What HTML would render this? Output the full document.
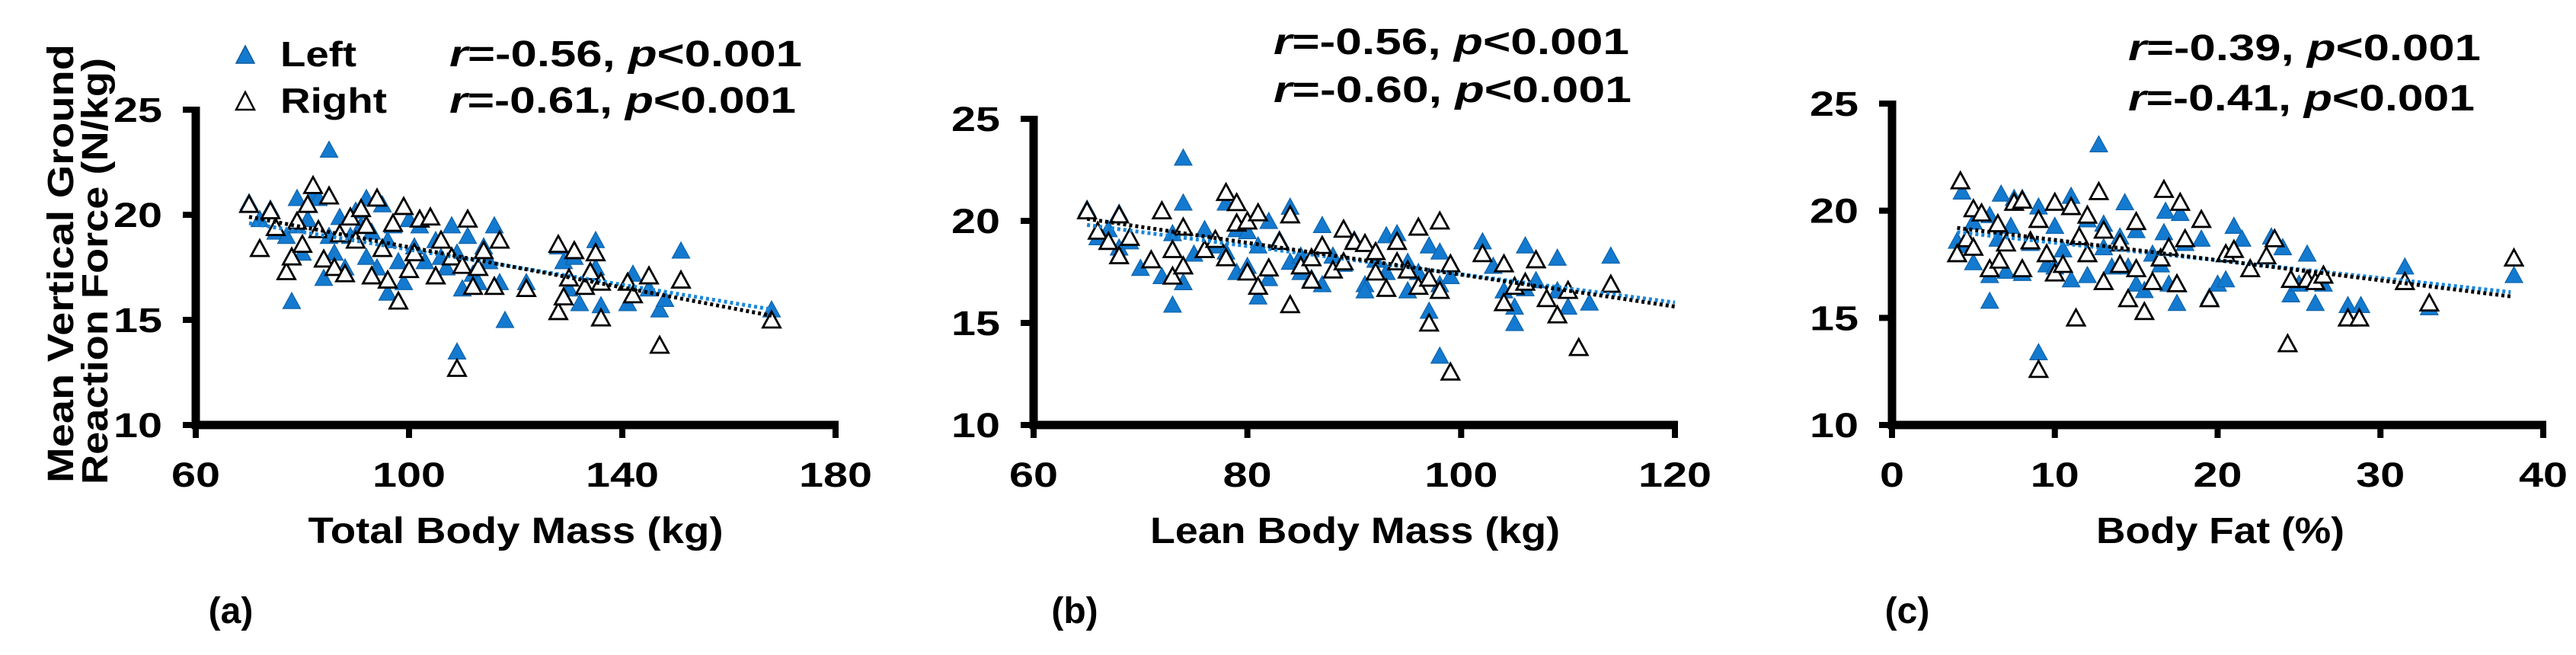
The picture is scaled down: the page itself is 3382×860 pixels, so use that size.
<!DOCTYPE html>
<html><head><meta charset="utf-8"><style>
html,body{margin:0;padding:0;background:#fff}
svg{display:block}
text{font-family:"Liberation Sans",sans-serif;font-weight:bold;fill:#000}
</style></head><body>
<svg id="chart" width="3382" height="860" viewBox="0 0 3382 860" xmlns="http://www.w3.org/2000/svg">
<g>
<text transform="translate(96,346) rotate(-90)" text-anchor="middle" font-size="48" textLength="576" lengthAdjust="spacingAndGlyphs">Mean Vertical Ground</text>
<text transform="translate(141,356) rotate(-90)" text-anchor="middle" font-size="48" textLength="560" lengthAdjust="spacingAndGlyphs">Reaction Force (N/kg)</text>
</g>
<g>
<g><polygon points="310,83 334,83 322,60" fill="#137ad0" stroke="#0d5a9c" stroke-width="1.5"/><text x="368" y="87" font-size="46" textLength="100" lengthAdjust="spacingAndGlyphs">Left</text></g>
<g><polygon points="310,144 334,144 322,121" fill="#fff" stroke="#000" stroke-width="2.5"/><text x="368" y="148" font-size="46" textLength="140" lengthAdjust="spacingAndGlyphs">Right</text></g>
</g>
<g id="panels"></g>
</svg>
<script>
const ns="http://www.w3.org/2000/svg";
// Panel a data
const aLeft=[[70,20.6],[72,19.8],[74,20.3],[75,19.2],[77,19.0],[78,15.9],[79,20.8],[79,19.5],[80,18.2],[81,19.8],[82,21.0],[83,20.8],[84,17.0],[85,23.1],[85,19.0],[86,18.2],[87,19.9],[88,17.5],[89,19.0],[90,20.2],[91,19.5],[92,20.8],[92,18.0],[93,19.2],[94,17.5],[95,20.5],[96,18.8],[96,16.3],[97,19.5],[98,17.8],[99,16.8],[100,19.8],[101,18.5],[102,19.5],[103,17.8],[105,18.8],[106,18.0],[107,17.5],[108,19.5],[109,18.2],[109,13.5],[110,16.5],[111,19.0],[112,17.2],[113,16.8],[114,18.5],[115,17.8],[116,19.5],[117,16.8],[118,15.0],[122,16.8],[128,18.5],[129,17.8],[130,16.5],[131,18.0],[132,15.8],[135,18.8],[135,17.5],[136,15.7],[141,15.8],[142,17.2],[145,16.5],[147,15.5],[148,16.0],[151,18.3],[168,15.5]];
const aRight=[[70,20.5],[72,18.4],[74,20.2],[75,19.4],[77,17.3],[78,18.0],[79,19.7],[80,18.6],[81,20.5],[82,21.4],[83,19.3],[84,17.9],[85,20.9],[86,17.5],[87,19.1],[88,17.2],[89,19.9],[90,18.8],[91,20.3],[92,19.5],[93,17.1],[94,20.8],[95,18.4],[96,16.9],[97,19.6],[98,15.9],[99,20.4],[100,17.4],[101,18.2],[102,19.8],[104,19.9],[105,17.1],[106,18.8],[108,18.0],[109,12.7],[110,17.6],[111,19.8],[112,16.6],[113,17.5],[114,18.3],[116,16.6],[117,18.8],[122,16.5],[128,18.6],[128,15.4],[129,16.1],[130,17.0],[131,18.3],[133,16.6],[134,17.3],[135,18.2],[136,15.1],[136,16.8],[141,16.8],[142,16.2],[145,17.1],[147,13.8],[151,16.9],[168,15.0]];
const aTrendLeft=[[70,19.6],[168,15.5]];
const aTrendRight=[[70,19.9],[168,15.2]];
const aXTicks=[60,100,140,180];
// Panel b data
const bLeft=[[65,20.6],[66,19.2],[67,19.6],[68,20.4],[68,18.7],[69,19.0],[70,17.7],[72,17.3],[73,15.9],[73,19.4],[74,23.1],[74,20.9],[74,17.0],[75,18.4],[76,19.6],[77,18.8],[78,20.9],[78,18.5],[79,17.5],[79,19.6],[80,19.5],[80,17.8],[81,16.3],[81,18.8],[82,20.0],[82,17.2],[83,19.1],[84,18.0],[84,20.7],[85,17.5],[85,18.3],[86,17.2],[87,19.8],[87,16.9],[88,18.3],[89,19.6],[89,17.9],[90,19.1],[91,16.9],[91,16.6],[92,18.1],[93,17.5],[93,19.3],[94,19.4],[95,18.0],[95,16.6],[96,17.5],[97,18.8],[97,15.6],[98,16.9],[98,18.5],[98,13.4],[99,17.3],[102,19.0],[103,17.8],[104,16.6],[105,15.8],[105,15.0],[106,18.8],[106,16.7],[107,17.1],[109,18.2],[109,16.6],[110,15.8],[112,16.0],[114,18.3]];
const bRight=[[65,20.5],[66,19.5],[67,19.0],[68,18.3],[68,20.3],[69,19.2],[71,18.1],[72,20.5],[73,17.3],[73,18.6],[74,19.7],[74,17.8],[76,18.6],[77,19.1],[78,21.4],[78,18.2],[79,20.9],[79,19.9],[80,20.0],[80,17.5],[81,16.8],[81,20.4],[82,17.7],[83,19.0],[84,20.3],[84,15.9],[85,17.8],[86,18.2],[86,17.1],[87,18.8],[88,17.6],[89,19.6],[89,18.0],[90,19.0],[91,18.9],[92,17.5],[92,18.5],[93,16.7],[94,19.0],[94,18.0],[95,17.6],[96,19.7],[96,16.8],[97,17.2],[97,15.0],[98,20.0],[98,16.6],[99,17.9],[99,12.6],[102,18.4],[104,16.0],[104,17.9],[105,16.8],[106,17.0],[107,18.1],[108,16.2],[109,15.4],[110,16.6],[111,13.8],[114,16.9]];
const bTrendLeft=[[65,19.8],[120,16.0]];
const bTrendRight=[[65,20.1],[120,15.8]];
const bXTicks=[60,80,100,120];
// Panel c data
const cLeft=[[4,18.6],[4.3,20.9],[4.6,18.4],[5,19.5],[5,17.6],[6,15.8],[6,17.0],[6,19.8],[6.5,18.7],[6.7,20.8],[7,17.2],[7.3,19.3],[7.5,20.6],[8,20.6],[8,17.1],[8.5,18.5],[9,13.4],[9,20.2],[9.5,17.5],[10,19.3],[10,17.4],[10.5,18.2],[11,20.7],[11,16.8],[11.3,15.0],[12,19.6],[12,17.0],[12.7,23.1],[13,18.3],[13,19.4],[13.5,17.4],[14,18.8],[14.3,20.4],[14.5,17.4],[15,19.1],[15,16.6],[15.5,16.3],[16,18.0],[16.5,17.5],[16.7,19.0],[16.8,20.0],[17,16.6],[17.5,15.7],[17.7,19.9],[18,18.5],[19,18.7],[19.5,16.0],[20,16.6],[20.5,16.8],[21,19.3],[21.5,18.7],[22,17.3],[23.3,18.8],[24,18.3],[24.5,16.1],[25,16.6],[25.5,18.0],[26,15.7],[26.5,16.6],[28,15.6],[28.8,15.6],[31.5,17.4],[33,15.5],[38.2,17.0]];
const cRight=[[4,18.0],[4.2,21.4],[4.6,18.7],[5,20.1],[5,18.3],[5.5,19.9],[6,17.3],[6.5,19.4],[6.6,17.7],[7,18.5],[7.5,20.4],[8,20.5],[8,17.3],[8.5,18.6],[9,12.6],[9,19.6],[9.5,18.0],[10,20.4],[10,17.1],[10.5,17.5],[11,20.2],[11.3,15.0],[11.5,18.8],[12,19.8],[12,18.0],[12.7,20.9],[13,16.7],[13,19.1],[14,18.5],[14,17.5],[14.5,15.9],[15,19.5],[15,17.3],[15.5,15.3],[16,16.7],[16.5,17.8],[16.7,21.0],[17,18.3],[17.5,16.6],[17.7,20.4],[18,18.7],[19,19.6],[19.5,15.9],[20.5,18.0],[21,18.2],[22,17.3],[23,17.9],[23.5,18.7],[24.3,13.8],[24.5,16.8],[25.5,16.8],[26,16.7],[26.5,17.0],[28,15.0],[28.7,15.0],[31.5,16.7],[33,15.7],[38.2,17.8]];
const cTrendLeft=[[4,19.0],[38,16.2]];
const cTrendRight=[[4,19.2],[38,16.0]];
const cXTicks=[0,10,20,30,40];
const yTicks=[10,15,20,25];
const statsA=["-0.56","-0.61"], statsB=["-0.56","-0.60"], statsC=["-0.39","-0.41"];

const panels=[
 {id:"a",left:aLeft,right:aRight,tl:aTrendLeft,tr:aTrendRight,xt:aXTicks,x0:257,x1:1097,y10:558,y25:144,title:"Total Body Mass (kg)",tx:677,tw:545,lab:"(a)",lx:303,stats:statsA,sx:590,sy:[87,148],sw:[463,455]},
 {id:"b",left:bLeft,right:bRight,tl:bTrendLeft,tr:bTrendRight,xt:bXTicks,x0:1357,x1:2199,y10:558,y25:156,title:"Lean Body Mass (kg)",tx:1779,tw:538,lab:"(b)",lx:1411,stats:statsB,sx:1672,sy:[71,134],sw:[467,470]},
 {id:"c",left:cLeft,right:cRight,tl:cTrendLeft,tr:cTrendRight,xt:cXTicks,x0:2484,x1:3339,y10:558,y25:136,title:"Body Fat (%)",tx:2915,tw:326,lab:"(c)",lx:2504,stats:statsC,sx:2794,sy:[79,145],sw:[463,455]}
];
const root=document.getElementById("panels");
function mk(tag,attrs,parent){const e=document.createElementNS(ns,tag);for(const k in attrs)e.setAttribute(k,attrs[k]);parent.appendChild(e);return e;}
function tri(x,y,fill,stroke,sw,parent){return mk("polygon",{points:`${x-11.5},${y+10} ${x+11.5},${y+10} ${x},${y-11}`,fill:fill,stroke:stroke,"stroke-width":sw},parent);}
panels.forEach(p=>{
 const xmin=p.xt[0], xmax=p.xt[p.xt.length-1];
 const X=v=>p.x0+(v-xmin)/(xmax-xmin)*(p.x1-p.x0);
 const Y=v=>p.y10-(v-10)/15*(p.y10-p.y25);
 const g=mk("g",{},root);
 
 
 const ax=mk("g",{},g);
 
 
 mk("line",{x1:p.x0,y1:Y(25)-4,x2:p.x0,y2:p.y10+5,stroke:"#000","stroke-width":11},ax);
 mk("line",{x1:p.x0-5,y1:p.y10,x2:p.x1+4,y2:p.y10,stroke:"#000","stroke-width":11},ax);
 yTicks.forEach(t=>{
  mk("line",{x1:p.x0-17,y1:Y(t),x2:p.x0,y2:Y(t),stroke:"#000","stroke-width":8},ax);
  const tl=mk("text",{x:p.x0-44,y:Y(t)+16,"text-anchor":"end","font-size":45,textLength:64,lengthAdjust:"spacingAndGlyphs"},ax);
  tl.textContent=t;
  
  
 });
 p.xt.forEach(t=>{
  mk("line",{x1:X(t),y1:p.y10,x2:X(t),y2:p.y10+17,stroke:"#000","stroke-width":8},ax);
  const s=String(t);
  const tl=mk("text",{x:X(t),y:639,"text-anchor":"middle","font-size":45,textLength:s.length*32,lengthAdjust:"spacingAndGlyphs"},ax);
  tl.textContent=s;
  
  
 });
 const tt=mk("text",{x:p.tx,y:713,"text-anchor":"middle","font-size":48,textLength:p.tw,lengthAdjust:"spacingAndGlyphs"},g);
 tt.textContent=p.title;
 
 
 const lb=mk("text",{x:p.lx,y:818,"text-anchor":"middle","font-size":48},g);
 lb.textContent=p.lab;
 
 
 p.stats.forEach((r,i)=>{
  const st=mk("text",{x:p.sx,y:p.sy[i],"font-size":48,textLength:p.sw[i],lengthAdjust:"spacingAndGlyphs"},g);
  
  
  const a=mk("tspan",{"font-style":"italic"},st);a.textContent="r";
  const b=mk("tspan",{},st);b.textContent="="+r+", ";
  const c=mk("tspan",{"font-style":"italic"},st);c.textContent="p";
  const d=mk("tspan",{},st);d.textContent="<0.001";
 });
 const gl=mk("g",{},g);
 
 
 p.left.forEach(pt=>{
  const t=tri(X(pt[0]),Y(pt[1]),"#137ad0","#0f63aa",1.2,gl);
  
  
 });
 const gr=mk("g",{},g);
 
 
 p.right.forEach(pt=>{
  const t=tri(X(pt[0]),Y(pt[1]),"#fff","#000",2.8,gr);
  
  
 });
 const l1=mk("line",{x1:X(p.tl[0][0]),y1:Y(p.tl[0][1]),x2:X(p.tl[1][0]),y2:Y(p.tl[1][1]),stroke:"#1a86d8","stroke-width":5,"stroke-dasharray":"4 4"},g);
 
 
 const l2=mk("line",{x1:X(p.tr[0][0]),y1:Y(p.tr[0][1]),x2:X(p.tr[1][0]),y2:Y(p.tr[1][1]),stroke:"#000","stroke-width":5,"stroke-dasharray":"4 4"},g);
 
 
});
</script>
</body></html>
